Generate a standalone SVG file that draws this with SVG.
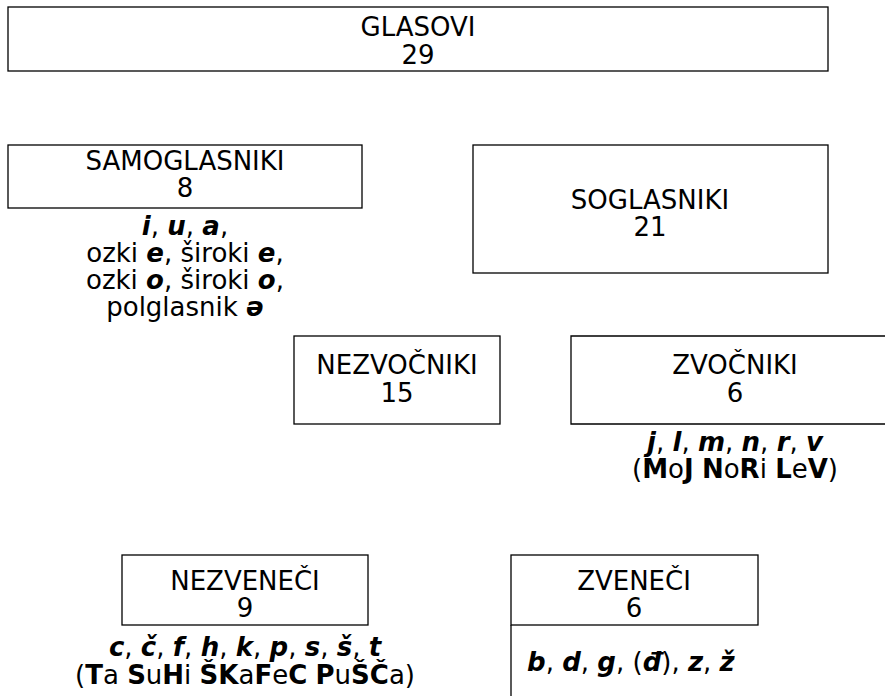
<svg xmlns="http://www.w3.org/2000/svg" width="885" height="696" viewBox="0 0 885 696">
<style>
text{font-family:"DejaVu Sans",sans-serif;font-size:26px;fill:#000}
.c{text-anchor:middle}
.b{font-weight:bold}
.bi{font-weight:bold;font-style:italic}
.box{fill:none;stroke:#000;stroke-width:1.3}
</style>
<rect width="885" height="696" fill="#fff"/>
<g id="glasovi">
<rect class="box" x="8" y="7" width="820" height="64"/>
<text class="c" x="418" y="36">GLASOVI</text>
<text class="c" x="418" y="64">29</text>
</g>
<g id="samoglasniki">
<rect class="box" x="8" y="145" width="354" height="63"/>
<text class="c" x="185" y="170">SAMOGLASNIKI</text>
<text class="c" x="185" y="197">8</text>
<text class="c" x="185" y="235"><tspan class="bi">i</tspan>, <tspan class="bi">u</tspan>, <tspan class="bi">a</tspan>,</text>
<text class="c" x="185" y="262">ozki <tspan class="bi">e</tspan>, široki <tspan class="bi">e</tspan>,</text>
<text class="c" x="185" y="289">ozki <tspan class="bi">o</tspan>, široki <tspan class="bi">o</tspan>,</text>
<text class="c" x="185" y="316">polglasnik <tspan class="bi">ə</tspan></text>
</g>
<g id="soglasniki">
<rect class="box" x="473" y="145" width="355" height="128"/>
<text class="c" x="650" y="209">SOGLASNIKI</text>
<text class="c" x="650" y="236">21</text>
</g>
<g id="nezvocniki">
<rect class="box" x="294" y="336" width="206" height="88"/>
<text class="c" x="397" y="374">NEZVOČNIKI</text>
<text class="c" x="397" y="402">15</text>
</g>
<g id="zvocniki">
<path class="box" d="M886 336H571V424H886"/>
<text class="c" x="735" y="374">ZVOČNIKI</text>
<text class="c" x="735" y="402">6</text>
<text class="c" x="735" y="451"><tspan class="bi">j</tspan>, <tspan class="bi">l</tspan>, <tspan class="bi">m</tspan>, <tspan class="bi">n</tspan>, <tspan class="bi">r</tspan>, <tspan class="bi">v</tspan></text>
<text class="c" x="735" y="478">(<tspan class="b">M</tspan>o<tspan class="b">J</tspan> <tspan class="b">N</tspan>o<tspan class="b">R</tspan>i <tspan class="b">L</tspan>e<tspan class="b">V</tspan>)</text>
</g>
<g id="nezveneci">
<rect class="box" x="122" y="555" width="246" height="70"/>
<text class="c" x="245" y="590">NEZVENEČI</text>
<text class="c" x="245" y="617">9</text>
<text class="c" x="245" y="656"><tspan class="bi">c</tspan>, <tspan class="bi">č</tspan>, <tspan class="bi">f</tspan>, <tspan class="bi">h</tspan>, <tspan class="bi">k</tspan>, <tspan class="bi">p</tspan>, <tspan class="bi">s</tspan>, <tspan class="bi">š</tspan>, <tspan class="bi">t</tspan></text>
<text class="c" x="245" y="684">(<tspan class="b">T</tspan>a <tspan class="b">S</tspan>u<tspan class="b">H</tspan>i <tspan class="b">ŠK</tspan>a<tspan class="b">F</tspan>e<tspan class="b">C</tspan> <tspan class="b">P</tspan>u<tspan class="b">ŠČ</tspan>a)</text>
</g>
<g id="zveneci">
<rect class="box" x="511" y="555" width="247" height="70"/>
<path class="box" d="M511 625V697"/>
<text class="c" x="634" y="590">ZVENEČI</text>
<text class="c" x="634" y="617">6</text>
<text x="527" y="671"><tspan class="bi">b</tspan>, <tspan class="bi">d</tspan>, <tspan class="bi">g</tspan>, (<tspan class="bi">đ</tspan>), <tspan class="bi">z</tspan>, <tspan class="bi">ž</tspan></text>
</g>
<g id="connectors"/>
</svg>
